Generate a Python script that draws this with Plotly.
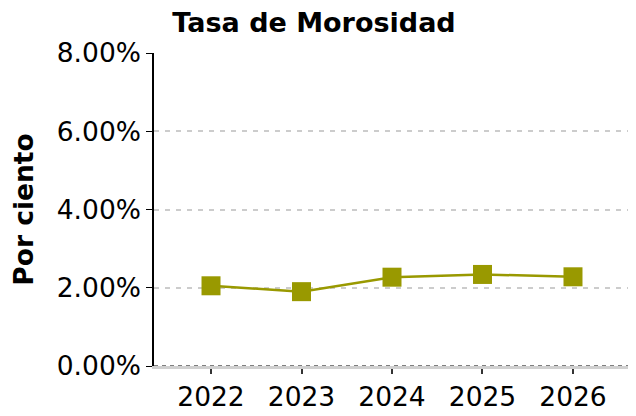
import plotly.graph_objects as go

# Datos de la serie
years = [2022, 2023, 2024, 2025, 2026]
tasa_morosidad = [2.05, 1.90, 2.27, 2.34, 2.28]
y_ticks = [0, 2, 4, 6, 8]
y_tick_labels = ['0.00%', '2.00%', '4.00%', '6.00%', '8.00%']

OLIVE = '#999900'
FONT = 'DejaVu Sans'
FSIZE = 26.5

# the page body adds an 8px offset, so the figure is drawn 8px smaller
W, H = 628, 408

fig = go.Figure()

fig.add_trace(go.Scatter(
    x=years,
    y=tasa_morosidad,
    mode='lines+markers',
    line=dict(color=OLIVE, width=2.5),
    marker=dict(symbol='square', size=19, color=OLIVE),
    hovertemplate='%{x}: %{y:.2f}%<extra></extra>',
))

# Dark dashed baseline at zero, on top of the light axis line
fig.add_shape(
    type='line', xref='paper', yref='y',
    x0=0, x1=1, y0=0, y1=0,
    line=dict(color='#555555', width=1.5, dash='4px,4px'),
)

fig.update_layout(
    width=W,
    height=H,
    margin=dict(l=146, r=6, t=45, b=50),
    paper_bgcolor='white',
    plot_bgcolor='white',
    showlegend=False,
    font=dict(family=FONT, color='black', size=FSIZE),
    title=dict(
        text='<b>Tasa de Morosidad</b>',
        x=306 / W, xanchor='center', xref='container',
        y=1 - 15 / H, yanchor='middle', yref='container',
        font=dict(family=FONT, size=27, color='black'),
        automargin=False,
    ),
    xaxis=dict(
        range=[2021.37, 2026.63],
        tickvals=years,
        ticktext=[str(y) for y in years],
        showgrid=False,
        zeroline=False,
        showline=True,
        linecolor='#d0d0d0',
        linewidth=3,
        ticks='outside',
        ticklen=5,
        tickwidth=1.5,
        tickcolor='#333333',
        tickfont=dict(size=FSIZE),
        automargin=False,
    ),
    yaxis=dict(
        range=[0, 8],
        tickvals=y_ticks,
        ticktext=y_tick_labels,
        showgrid=True,
        gridcolor='#cccccc',
        griddash='5px,6px',
        gridwidth=1.5,
        zeroline=False,
        showline=True,
        linecolor='black',
        linewidth=1.5,
        ticks='outside',
        ticklen=6,
        tickcolor='black',
        tickfont=dict(size=FSIZE),
        title=dict(text='<b>Por ciento</b>', font=dict(size=FSIZE), standoff=23),
        automargin=False,
    ),
)

fig.write_html('out.html')
